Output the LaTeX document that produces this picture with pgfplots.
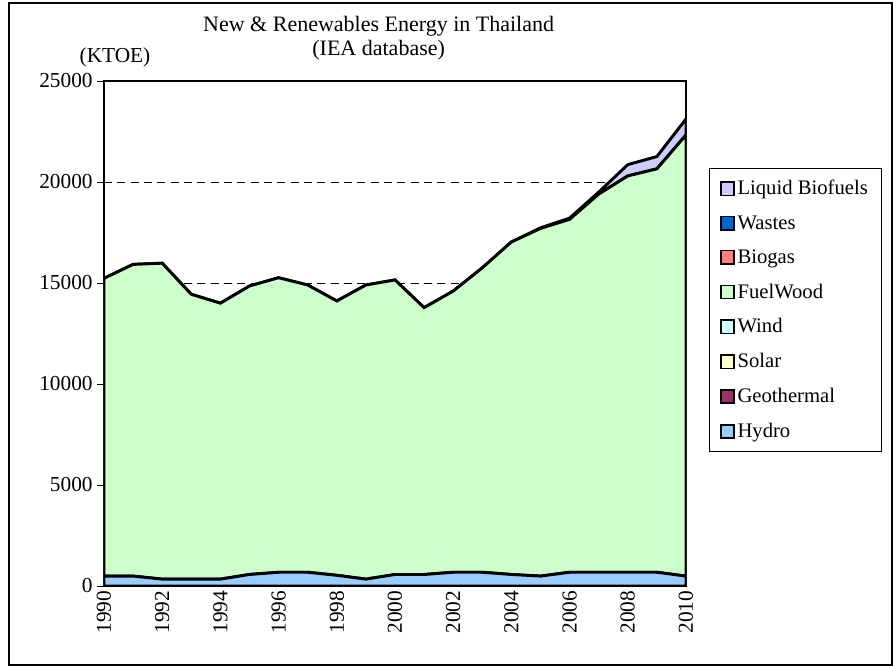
\documentclass[border=0pt]{standalone}
\usepackage{pgfplots}
\pgfplotsset{compat=1.18}
\usepackage{pgfplotstable}
\usepackage{fontspec}
\setmainfont{Liberation Serif}
\definecolor{cBio}{HTML}{CCCCFF}
\definecolor{cWaste}{HTML}{0066CC}
\definecolor{cBiogas}{HTML}{FF8080}
\definecolor{cWood}{HTML}{CCFFCC}
\definecolor{cWind}{HTML}{CCFFFF}
\definecolor{cSolar}{HTML}{FFFFCC}
\definecolor{cGeo}{HTML}{993366}
\definecolor{cHydro}{HTML}{99CCFF}
\pgfplotstableread{
year hydro fuelwood bio
1990 490 14740 0
1991 490 15430 0
1992 340 15640 0
1993 340 14100 0
1994 340 13660 0
1995 570 14280 0
1996 680 14580 0
1997 680 14220 0
1998 530 13580 0
1999 340 14560 0
2000 570 14580 0
2001 570 13210 0
2002 680 13920 0
2003 680 15070 0
2004 570 16460 0
2005 490 17210 30
2006 680 17470 60
2007 680 18720 100
2008 680 19620 560
2009 680 19970 610
2010 490 21840 790
}\data
\begin{document}
\begin{tikzpicture}
\useasboundingbox (-78pt,-60.75pt) rectangle (591.75pt,439.5pt);
\draw[line width=0.8pt] (-71.25pt,-59.25pt) rectangle (591pt,437.25pt);
\begin{axis}[
  at={(0pt,0pt)}, anchor=south west,
  scale only axis, width=436.5pt, height=378.75pt,
  xmin=1990, xmax=2010, ymin=0, ymax=25000,
  stack plots=y,
  font=\fontsize{16}{18}\selectfont,
  ytick={0,5000,...,25000},
  scaled y ticks=false,
  /pgf/number format/set thousands separator={},
  /pgf/number format/assume math mode=true,
  ymajorgrids,
  grid style={black, line width=0.7pt, dash pattern=on 6pt off 4pt},
  ytick pos=left, ytick align=outside,
  xtick pos=bottom, xtick align=inside,
  major tick length=5pt,
  tick style={black, line width=0.7pt},
  xtick={1990,...,2010},
  xticklabels={1990,,1992,,1994,,1996,,1998,,2000,,2002,,2004,,2006,,2008,,2010},
  xticklabel style={rotate=90, anchor=east},
  axis line style={line width=1.2pt},
  clip=true,
  legend cell align=left,
  legend style={at={(1.0395,0.8277)}, anchor=north west, draw=black, line width=0.6pt,
    row sep=9.9pt, inner xsep=8pt, inner ysep=7pt, font=\fontsize{15.5}{17}\selectfont,
    /tikz/every even column/.append style={column sep=0pt}},
  legend image code/.code={\draw[#1, line width=1.1pt] (0pt,-5pt) rectangle (10pt,5pt);},
]
\addplot[fill=cHydro, draw=black, line width=2.2pt, forget plot] table[x=year, y=hydro]{\data} \closedcycle;
\addplot[fill=cWood, draw=black, line width=2.2pt, forget plot] table[x=year, y=fuelwood]{\data} \closedcycle;
\addplot[fill=cBio, draw=black, line width=2.2pt, forget plot] table[x=year, y=bio]{\data} \closedcycle;
\addlegendimage{fill=cBio, draw=black}
\addlegendentry{Liquid Biofuels}
\addlegendimage{fill=cWaste, draw=black}
\addlegendentry{Wastes}
\addlegendimage{fill=cBiogas, draw=black}
\addlegendentry{Biogas}
\addlegendimage{fill=cWood, draw=black}
\addlegendentry{FuelWood}
\addlegendimage{fill=cWind, draw=black}
\addlegendentry{Wind}
\addlegendimage{fill=cSolar, draw=black}
\addlegendentry{Solar}
\addlegendimage{fill=cGeo, draw=black}
\addlegendentry{Geothermal}
\addlegendimage{fill=cHydro, draw=black}
\addlegendentry{Hydro}
\end{axis}
\node[font=\fontsize{16.5}{18}\selectfont] at (206pt,420pt) {New \& Renewables Energy in Thailand};
\node[font=\fontsize{16.5}{18}\selectfont] at (206pt,402pt) {(IEA database)};
\node[font=\fontsize{16}{18}\selectfont] at (8.25pt,396.75pt) {(KTOE)};
\end{tikzpicture}
\end{document}
